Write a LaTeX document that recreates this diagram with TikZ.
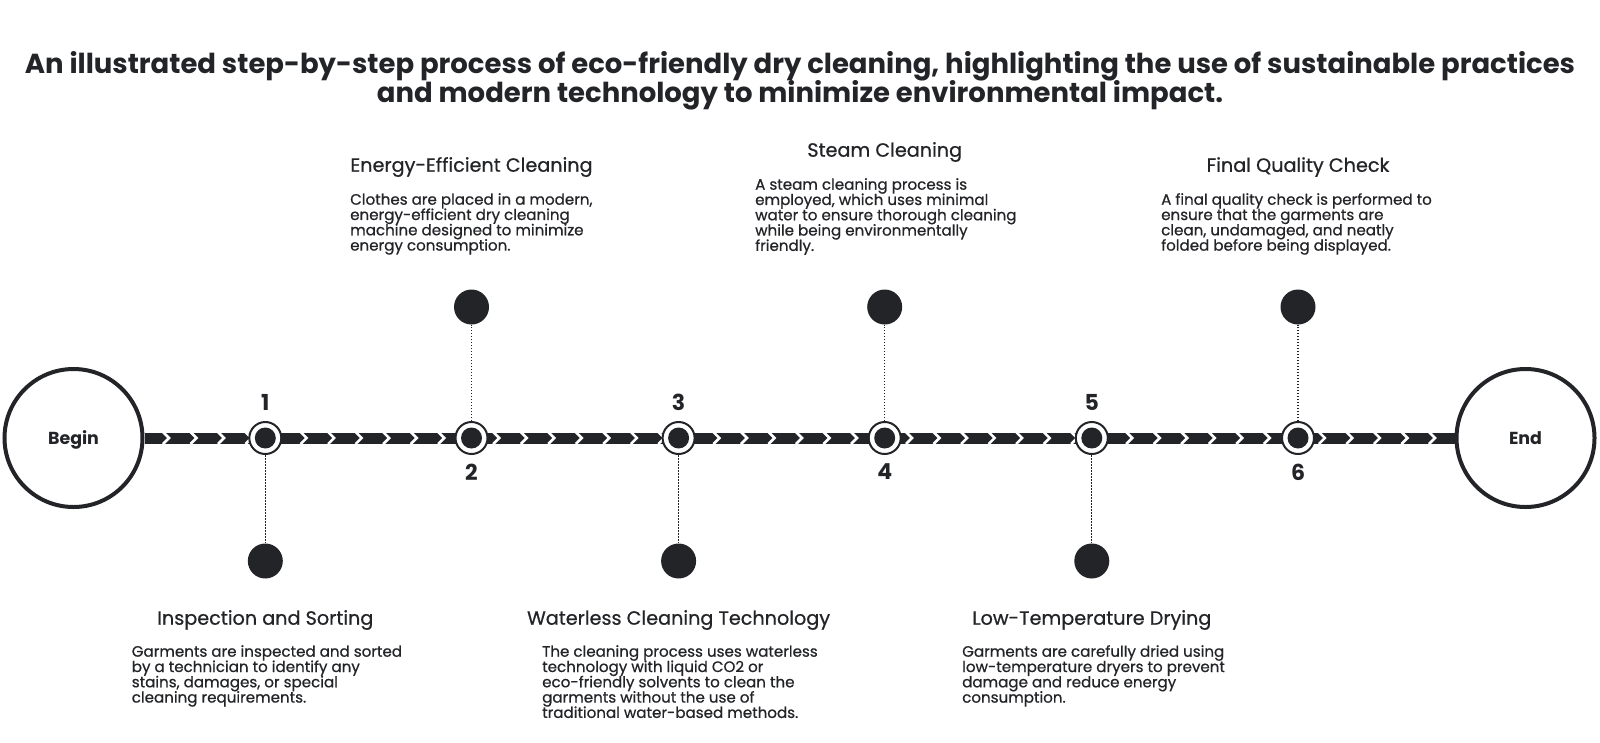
\documentclass[tikz,border=0pt]{standalone}
\usepackage{fontspec}
\setmainfont{Poppins}
\newfontfamily\medfont{Poppins}[FakeBold=0.7]
\definecolor{ink}{HTML}{232428}
\newcommand\mytightlines{\lineskiplimit -30pt\relax}
\begin{document}
\begin{tikzpicture}[x=1pt,y=-1pt,
  headline/.style={font=\bfseries\fontsize{27.5}{28.6}\selectfont\mytightlines, text=ink, align=center},
  steptitle/.style={font=\medfont\fontsize{19.2}{22}\selectfont, text=ink},
  desc/.style={font=\medfont\fontsize{15.1}{15.3}\selectfont\mytightlines, align=left, anchor=north west, inner sep=0pt, text=ink},
  endpt/.style={circle, draw=ink, line width=4pt, minimum size=138pt, inner sep=0pt, font=\bfseries\fontsize{17.4}{19}\selectfont, text=ink},
  stepnode/.style={circle, draw=ink, fill=white, line width=2pt, minimum size=32pt, inner sep=0pt},
  stepdot/.style={circle, fill=ink, minimum size=21pt, inner sep=0pt},
  bigdot/.style={circle, fill=ink, minimum size=35pt, inner sep=0pt},
  numlbl/.style={font=\bfseries\fontsize{22}{24}\selectfont, text=ink},
  leader/.style={draw=ink, line width=1.2pt, dash pattern=on 1.5pt off 1.5pt}
]
\useasboundingbox (0,0) rectangle (1600,742);

\node[headline] (title) at (800,81) {An illustrated step-by-step process of eco-friendly dry cleaning, highlighting the use of sustainable practices\\and modern technology to minimize environmental impact.};

\node[endpt, text depth=0pt] (begin) at (73.5,438) {Begin};
\node[endpt] (end) at (1525.5,438) {End};

\draw[ink, line width=11pt] (begin.east) -- (end.west);
\begin{scope}
  \clip (145,432.5) rectangle (1455,443.5);
  \foreach \k in {0,...,46} {
    \draw[white, line width=2.6pt] ({167+27.52*\k-4},432) -- ({167+27.52*\k+2},438) -- ({167+27.52*\k-4},444);
  }
\end{scope}

% steps
\foreach \i/\x in {1/265.3,2/471.5,3/678.6,4/884.7,5/1091.8,6/1298.0} {
  \node[stepnode] (s\i) at (\x,438) {};
  \node[stepdot] (sd\i) at (\x,438) {};
}
\node[bigdot] (d1) at (265.3,561) {};
\node[bigdot] (d2) at (471.5,307) {};
\node[bigdot] (d3) at (678.6,561) {};
\node[bigdot] (d4) at (884.7,307) {};
\node[bigdot] (d5) at (1091.8,561) {};
\node[bigdot] (d6) at (1298.0,307) {};
\foreach \i in {1,...,6} { \path[leader] (s\i) -- (d\i); }

\node[numlbl] (n1) at (265.3,402) {1};
\node[numlbl] (n2) at (471.5,472) {2};
\node[numlbl] (n3) at (678.6,402) {3};
\node[numlbl] (n4) at (884.7,472) {4};
\node[numlbl] (n5) at (1091.8,402) {5};
\node[numlbl] (n6) at (1298.0,472) {6};

% titles
\node[steptitle] (t1) at (265.3,620) {Inspection and Sorting};
\node[steptitle] (t2) at (471.5,167) {Energy-Efficient Cleaning};
\node[steptitle] (t3) at (678.6,620) {Waterless Cleaning Technology};
\node[steptitle] (t4) at (884.7,152) {Steam Cleaning};
\node[steptitle] (t5) at (1091.8,620) {Low-Temperature Drying};
\node[steptitle] (t6) at (1298.0,167) {Final Quality Check};

% descriptions
\node[desc] (p1) at (131.6,645) {Garments are inspected and sorted\\by a technician to identify any\\stains, damages, or special\\cleaning requirements.};
\node[desc] (p2) at (350,193) {Clothes are placed in a modern,\\energy-efficient dry cleaning\\machine designed to minimize\\energy consumption.};
\node[desc] (p3) at (542,645) {The cleaning process uses waterless\\technology with liquid CO2 or\\eco-friendly solvents to clean the\\garments without the use of\\traditional water-based methods.};
\node[desc] (p4) at (755,178) {A steam cleaning process is\\employed, which uses minimal\\water to ensure thorough cleaning\\while being environmentally\\friendly.};
\node[desc] (p5) at (962,645) {Garments are carefully dried using\\low-temperature dryers to prevent\\damage and reduce energy\\consumption.};
\node[desc] (p6) at (1161,193) {A final quality check is performed to\\ensure that the garments are\\clean, undamaged, and neatly\\folded before being displayed.};
\end{tikzpicture}
\end{document}
